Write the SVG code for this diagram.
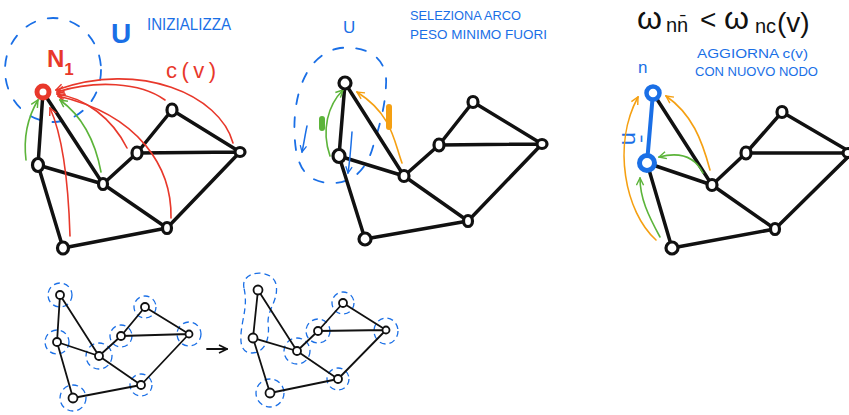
<svg xmlns="http://www.w3.org/2000/svg" width="849" height="415" viewBox="0 0 849 415">
<defs>
<style>
.e{stroke:#111;stroke-width:3.5;stroke-linecap:round;fill:none}
.es{stroke:#111;stroke-width:1.8;stroke-linecap:round;fill:none}
.n{fill:#fff;stroke:#111;stroke-width:3.2}
.ns{fill:#fff;stroke:#111;stroke-width:1.8}
.d{fill:none;stroke:#1a6fe6;stroke-width:1.3;stroke-dasharray:6 4}
.dl{fill:none;stroke:#1a6fe6;stroke-width:1.8;stroke-dasharray:10 13;stroke-linecap:round}
.red{fill:none;stroke:#e8382b;stroke-width:1.6;stroke-linecap:round;marker-end:url(#mr)}
.grn{fill:none;stroke:#5cb43a;stroke-width:1.6;stroke-linecap:round;marker-end:url(#mg)}
.org{fill:none;stroke:#f5a012;stroke-width:1.6;stroke-linecap:round;marker-end:url(#mo)}
.blu{fill:none;stroke:#1a6fe6;stroke-width:1.5;stroke-linecap:round;marker-end:url(#mb)}
.t{font-family:"Liberation Sans",Arial,sans-serif}
.bt{fill:#1a6fe6}
</style>
<marker id="mr" viewBox="0 0 10 10" refX="9" refY="5" markerWidth="9" markerHeight="9" markerUnits="userSpaceOnUse" orient="auto"><path d="M1,1 L9,5 L1,9" fill="none" stroke="#e8382b" stroke-width="1.6"/></marker>
<marker id="mg" viewBox="0 0 10 10" refX="9" refY="5" markerWidth="9" markerHeight="9" markerUnits="userSpaceOnUse" orient="auto"><path d="M1,1 L9,5 L1,9" fill="none" stroke="#5cb43a" stroke-width="1.6"/></marker>
<marker id="mo" viewBox="0 0 10 10" refX="9" refY="5" markerWidth="9" markerHeight="9" markerUnits="userSpaceOnUse" orient="auto"><path d="M1,1 L9,5 L1,9" fill="none" stroke="#f5a012" stroke-width="1.6"/></marker>
<marker id="mb" viewBox="0 0 10 10" refX="9" refY="5" markerWidth="8" markerHeight="8" markerUnits="userSpaceOnUse" orient="auto"><path d="M1,1 L9,5 L1,9" fill="none" stroke="#1a6fe6" stroke-width="1.6"/></marker>
<marker id="mk" viewBox="0 0 10 10" refX="9" refY="5" markerWidth="10" markerHeight="10" markerUnits="userSpaceOnUse" orient="auto"><path d="M1,1 L9,5 L1,9" fill="none" stroke="#111" stroke-width="1.6"/></marker>
</defs>
<rect width="849" height="415" fill="#fff"/>

<!-- labels -->
<g id="labels">
<text class="t bt" x="111" y="43" font-size="28" font-weight="bold">U</text>
<text class="t bt" x="147" y="30" font-size="16" textLength="84" lengthAdjust="spacingAndGlyphs">INIZIALIZZA</text>
<text class="t" x="47" y="67" font-size="24" font-weight="bold" fill="#e8382b">N<tspan font-size="17" dy="8">1</tspan></text>
<text class="t" x="166" y="78" font-size="22" fill="#e8382b" textLength="50" lengthAdjust="spacing">c(v)</text>
<text class="t bt" x="343" y="33" font-size="17">U</text>
<text class="t bt" x="410" y="20" font-size="13" textLength="111" lengthAdjust="spacingAndGlyphs">SELEZIONA ARCO</text>
<text class="t bt" x="410" y="39" font-size="13" textLength="137" lengthAdjust="spacingAndGlyphs">PESO MINIMO FUORI</text>
<text class="t" x="637" y="29" font-size="32" fill="#111">ω</text>
<text class="t" x="666" y="32" font-size="20" fill="#111">nn̄</text>
<text class="t" x="700" y="29" font-size="28" fill="#111">&lt;</text>
<text class="t" x="724" y="29" font-size="32" fill="#111">ω</text>
<text class="t" x="755" y="33" font-size="20" fill="#111">nc</text>
<text class="t" x="777" y="32" font-size="28" fill="#111">(v)</text>
<text class="t bt" x="697" y="58" font-size="13" textLength="111" lengthAdjust="spacingAndGlyphs">AGGIORNA c(v)</text>
<text class="t bt" x="695" y="76" font-size="12" textLength="123" lengthAdjust="spacingAndGlyphs">CON NUOVO NODO</text>
<text class="t bt" x="638" y="73" font-size="17">n</text>
<text class="t bt" font-size="24" transform="translate(622,132) rotate(90)">n̄</text>
</g>

<!-- blue dashed regions -->
<g id="regions">
<ellipse class="dl" cx="53" cy="70" rx="48" ry="52"/>
<path class="dl" d="M296,150 C290,110 300,55 340,48 C372,45 388,62 386,85 C385,110 378,130 372,150 C365,172 350,184 330,183 C310,182 300,172 296,150 Z"/>
<circle class="d" cx="60" cy="295" r="12"/>
<circle class="d" cx="145" cy="307" r="11"/>
<circle class="d" cx="57" cy="342" r="12"/>
<circle class="d" cx="99" cy="356" r="13"/>
<circle class="d" cx="121" cy="336" r="11"/>
<circle class="d" cx="189" cy="334" r="12"/>
<circle class="d" cx="141" cy="385" r="11"/>
<circle class="d" cx="73" cy="398" r="13"/>
<path class="d" d="M244,288 C240,270 272,268 276,284 C279,300 268,308 268,322 C270,338 266,352 252,353 C238,353 240,336 243,320 C246,305 246,298 244,288 Z"/>
<circle class="d" cx="343" cy="303" r="11"/>
<circle class="d" cx="318" cy="331" r="12"/>
<ellipse class="d" cx="386" cy="331" rx="12" ry="13"/>
<circle class="d" cx="297" cy="351" r="13"/>
<circle class="d" cx="338" cy="379" r="11"/>
<circle class="d" cx="270" cy="393" r="14"/>
</g>

<!-- connectors -->
<g id="connectors">
<path class="e" d="M43,92 L38,165 M43,92 L103,184 M38,165 L103,184 M38,165 L63,248 M63,248 L167,228 M103,184 L167,228 M103,184 L137,153 M137,153 L172,110 M172,110 L240,152 M137,153 L240,152 M167,228 L240,152"/>
<path class="e" d="M345,83 L339,156 M345,83 L404,176 M339,156 L404,176 M339,156 L365,239 M365,239 L468,221 M404,176 L468,221 M404,176 L439,145 M439,145 L473,102 M473,102 L542,144 M439,145 L542,144 M468,221 L542,144"/>
<path class="e" d="M653,93 L712,185 M647,163 L712,185 M647,163 L672,248 M672,248 L775,229 M712,185 L775,229 M712,185 L746,153 M746,153 L782,112 M782,112 L852,153 M746,153 L852,153 M775,229 L852,153"/>
<path d="M653,93 L647,163" fill="none" stroke="#1a6fe6" stroke-width="4" stroke-linecap="round"/>
<path class="es" d="M60,295 L57,342 M60,295 L99,356 M57,342 L99,356 M57,342 L73,398 M73,398 L141,385 M99,356 L141,385 M99,356 L121,336 M121,336 L145,307 M145,307 L189,334 M121,336 L189,334 M141,385 L189,334"/>
<path class="es" d="M258,290 L253,338 M258,290 L297,351 M253,338 L297,351 M253,338 L270,393 M270,393 L338,379 M297,351 L338,379 M297,351 L318,331 M318,331 L343,303 M343,303 L386,330 M318,331 L386,330 M338,379 L386,330"/>
<path d="M207,349 L227,349" fill="none" stroke="#111" stroke-width="1.8" stroke-linecap="round" marker-end="url(#mk)"/>
<path class="red" d="M233,143 C220,95 140,60 56,90"/>
<path class="red" d="M165,100 C140,82 95,80 57,92"/>
<path class="red" d="M127,148 C112,118 85,98 57,94"/>
<path class="red" d="M171,218 C172,168 140,115 58,96"/>
<path class="red" d="M70,236 C68,170 60,130 50,108"/>
<path class="grn" d="M26,160 C23,135 29,115 38,100"/>
<path class="grn" d="M101,172 C95,140 82,116 60,100"/>
<path class="grn" d="M330,156 C321,130 328,105 343,90"/>
<path class="org" d="M402,163 C394,142 393,115 357,92"/>
<path d="M389,107 L389,127" stroke="#f5a012" stroke-width="6" stroke-linecap="round"/>
<path d="M322,119 L322,128" stroke="#5cb43a" stroke-width="6" stroke-linecap="round"/>
<path class="blu" d="M307,126 C305,135 304,143 302,152"/>
<path class="blu" d="M352,132 C351,146 350,160 348,173"/>
<path class="org" d="M656,240 C625,212 612,145 638,97"/>
<path class="org" d="M710,170 C702,140 692,114 666,96"/>
<path class="grn" d="M703,173 C694,155 678,152 659,157"/>
<path class="grn" d="M660,237 C648,215 640,198 640,178"/>
</g>

<g id="g1-n1"><circle cx="43" cy="92" r="6" fill="#fff" stroke="#e8382b" stroke-width="5"/></g>
<g id="g1-a"><ellipse class="n" cx="172" cy="110" rx="5" ry="6"/></g>
<g id="g1-b"><ellipse class="n" cx="38" cy="165" rx="5.5" ry="6.5"/></g>
<g id="g1-c"><ellipse class="n" cx="103" cy="184" rx="4.5" ry="5.5"/></g>
<g id="g1-d"><ellipse class="n" cx="137" cy="153" rx="5" ry="6"/></g>
<g id="g1-e"><ellipse class="n" cx="240" cy="152" rx="5" ry="4.5"/></g>
<g id="g1-f"><ellipse class="n" cx="167" cy="228" rx="4.5" ry="5.5"/></g>
<g id="g1-g"><ellipse class="n" cx="63" cy="248" rx="5.5" ry="6"/></g>
<g id="g2-t"><circle class="n" cx="345" cy="83" r="6"/></g>
<g id="g2-a"><ellipse class="n" cx="473" cy="102" rx="5" ry="5.5"/></g>
<g id="g2-b"><ellipse class="n" cx="339" cy="156" rx="6" ry="6.5"/></g>
<g id="g2-c"><ellipse class="n" cx="404" cy="176" rx="5" ry="5.5"/></g>
<g id="g2-d"><ellipse class="n" cx="439" cy="145" rx="5" ry="6"/></g>
<g id="g2-e"><ellipse class="n" cx="542" cy="144" rx="5" ry="4.5"/></g>
<g id="g2-f"><ellipse class="n" cx="468" cy="221" rx="4.5" ry="5.5"/></g>
<g id="g2-g"><ellipse class="n" cx="365" cy="239" rx="6" ry="6"/></g>
<g id="g3-t"><circle cx="653" cy="93" r="6.5" fill="#fff" stroke="#1a6fe6" stroke-width="4.5"/></g>
<g id="g3-a"><ellipse class="n" cx="782" cy="112" rx="5" ry="5.5"/></g>
<g id="g3-b"><circle cx="647" cy="163" r="7.5" fill="#fff" stroke="#1a6fe6" stroke-width="5"/></g>
<g id="g3-c"><ellipse class="n" cx="712" cy="185" rx="5" ry="5.5"/></g>
<g id="g3-d"><ellipse class="n" cx="746" cy="153" rx="5" ry="6"/></g>
<g id="g3-e"><ellipse class="n" cx="848" cy="153" rx="5" ry="4.5"/></g>
<g id="g3-f"><ellipse class="n" cx="775" cy="229" rx="4.5" ry="5.5"/></g>
<g id="g3-g"><ellipse class="n" cx="672" cy="248" rx="6" ry="6"/></g>
<g id="g4-t"><circle class="ns" cx="60" cy="295" r="4"/></g>
<g id="g4-a"><circle class="ns" cx="145" cy="307" r="4"/></g>
<g id="g4-b"><circle class="ns" cx="57" cy="342" r="4"/></g>
<g id="g4-c"><circle class="ns" cx="99" cy="356" r="4"/></g>
<g id="g4-d"><circle class="ns" cx="121" cy="336" r="4"/></g>
<g id="g4-e"><circle class="ns" cx="189" cy="334" r="3.5"/></g>
<g id="g4-f"><circle class="ns" cx="141" cy="385" r="4"/></g>
<g id="g4-g"><circle class="ns" cx="73" cy="398" r="4.5"/></g>
<g id="g5-t"><circle class="ns" cx="258" cy="290" r="4.5"/></g>
<g id="g5-a"><circle class="ns" cx="343" cy="303" r="4"/></g>
<g id="g5-b"><circle class="ns" cx="253" cy="338" r="4.5"/></g>
<g id="g5-c"><circle class="ns" cx="297" cy="351" r="4"/></g>
<g id="g5-d"><circle class="ns" cx="318" cy="331" r="4"/></g>
<g id="g5-e"><circle class="ns" cx="386" cy="330" r="3.5"/></g>
<g id="g5-f"><circle class="ns" cx="338" cy="379" r="4"/></g>
<g id="g5-g"><circle class="ns" cx="270" cy="393" r="4.5"/></g>
</svg>
